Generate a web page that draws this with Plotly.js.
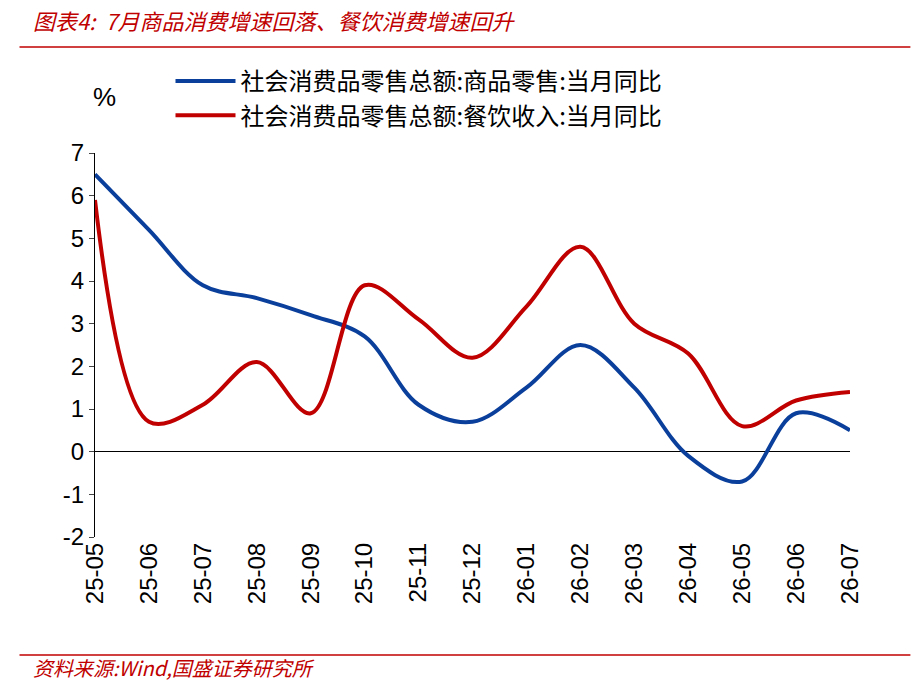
<!DOCTYPE html>
<html>
<head>
<meta charset="utf-8">
<script src="https://cdn.plot.ly/plotly-3.0.1.min.js"></script>
<style>body{margin:0;background:#fff}</style>
</head>
<body>
<div id="chart" style="width:920px;height:693px"></div>
<script>
// months on the x axis
var months = ['25-05','25-06','25-07','25-08','25-09','25-10','25-11','25-12',
              '26-01','26-02','26-03','26-04','26-05','26-06','26-07'];
// retail sales of goods, y/y %
var goods = [6.5, 5.2, 3.9, 3.6, 3.2, 2.7, 1.1, 0.7, 1.5, 2.5, 1.5, -0.1, -0.7, 0.9, 0.5];
// catering revenue, y/y %
var catering = [5.9, 0.7, 1.1, 2.1, 0.9, 3.9, 3.1, 2.2, 3.4, 4.8, 3.0, 2.3, 0.6, 1.2, 1.4];
// y tick labels (plain hyphen like the original)
var yTicks = [-2, -1, 0, 1, 2, 3, 4, 5, 6, 7];
var yTickText = ['-2', '-1', '0', '1', '2', '3', '4', '5', '6', '7'];

var cjk = '"Noto Sans CJK SC", sans-serif';
var latin = '"Liberation Sans", Arial, sans-serif';

var traces = [
  {x: months, y: goods, type: 'scatter', mode: 'lines',
   line: {color: '#0B3F9C', width: 4, shape: 'spline', smoothing: 1},
   name: '社会消费品零售总额:商品零售:当月同比'},
  {x: months, y: catering, type: 'scatter', mode: 'lines',
   line: {color: '#C00000', width: 4, shape: 'spline', smoothing: 1},
   name: '社会消费品零售总额:餐饮收入:当月同比'}
];

var layout = {
  width: 920, height: 693,
  margin: {l: 95, r: 70, t: 153, b: 156, autoexpand: false},
  paper_bgcolor: '#fff', plot_bgcolor: '#fff',
  showlegend: true,
  legend: {xref: 'paper', yref: 'container', x: 0.1, y: 0.915,
           xanchor: 'left', yanchor: 'top', itemwidth: 60,
           font: {family: cjk, size: 24, color: '#000'}, tracegroupgap: 10},
  xaxis: {type: 'category', range: [0, 14], showgrid: false, showline: false,
          zeroline: false, tickangle: -90, ticks: '',
          tickfont: {family: latin, size: 24, color: '#000'}},
  yaxis: {range: [-2, 7], tickvals: yTicks, ticktext: yTickText,
          showgrid: false, showline: true,
          linecolor: '#000', linewidth: 1, ticks: 'outside', ticklen: 5,
          zeroline: true, zerolinecolor: '#000', zerolinewidth: 1,
          tickfont: {family: latin, size: 24, color: '#000'}},
  shapes: [
    {type: 'line', xref: 'paper', yref: 'paper', x0: -0.1, x1: 1.08,
     y0: 1.276, y1: 1.276, line: {color: '#C00000', width: 1.5}},
    {type: 'line', xref: 'paper', yref: 'paper', x0: -0.1, x1: 1.08,
     y0: -0.307, y1: -0.307, line: {color: '#C00000', width: 1.5}}
  ],
  annotations: [
    {xref: 'paper', yref: 'paper', x: -0.085, y: 1.346, xanchor: 'left', yanchor: 'middle',
     showarrow: false, text: '<i>图表4:  7月商品消费增速回落、餐饮消费增速回升</i>',
     font: {family: cjk, size: 22, color: '#C00000'}},
    {xref: 'paper', yref: 'paper', x: -0.005, y: 1.145, xanchor: 'left', yanchor: 'middle',
     showarrow: false, text: '%', font: {family: latin, size: 26, color: '#000'}},
    {xref: 'paper', yref: 'paper', x: -0.085, y: -0.341, xanchor: 'left', yanchor: 'middle',
     showarrow: false, text: '<i>资料来源:Wind,国盛证券研究所</i>',
     font: {family: cjk, size: 20, color: '#C00000'}}
  ]
};

Plotly.newPlot('chart', traces, layout, {displayModeBar: false});
</script>
</body>
</html>
